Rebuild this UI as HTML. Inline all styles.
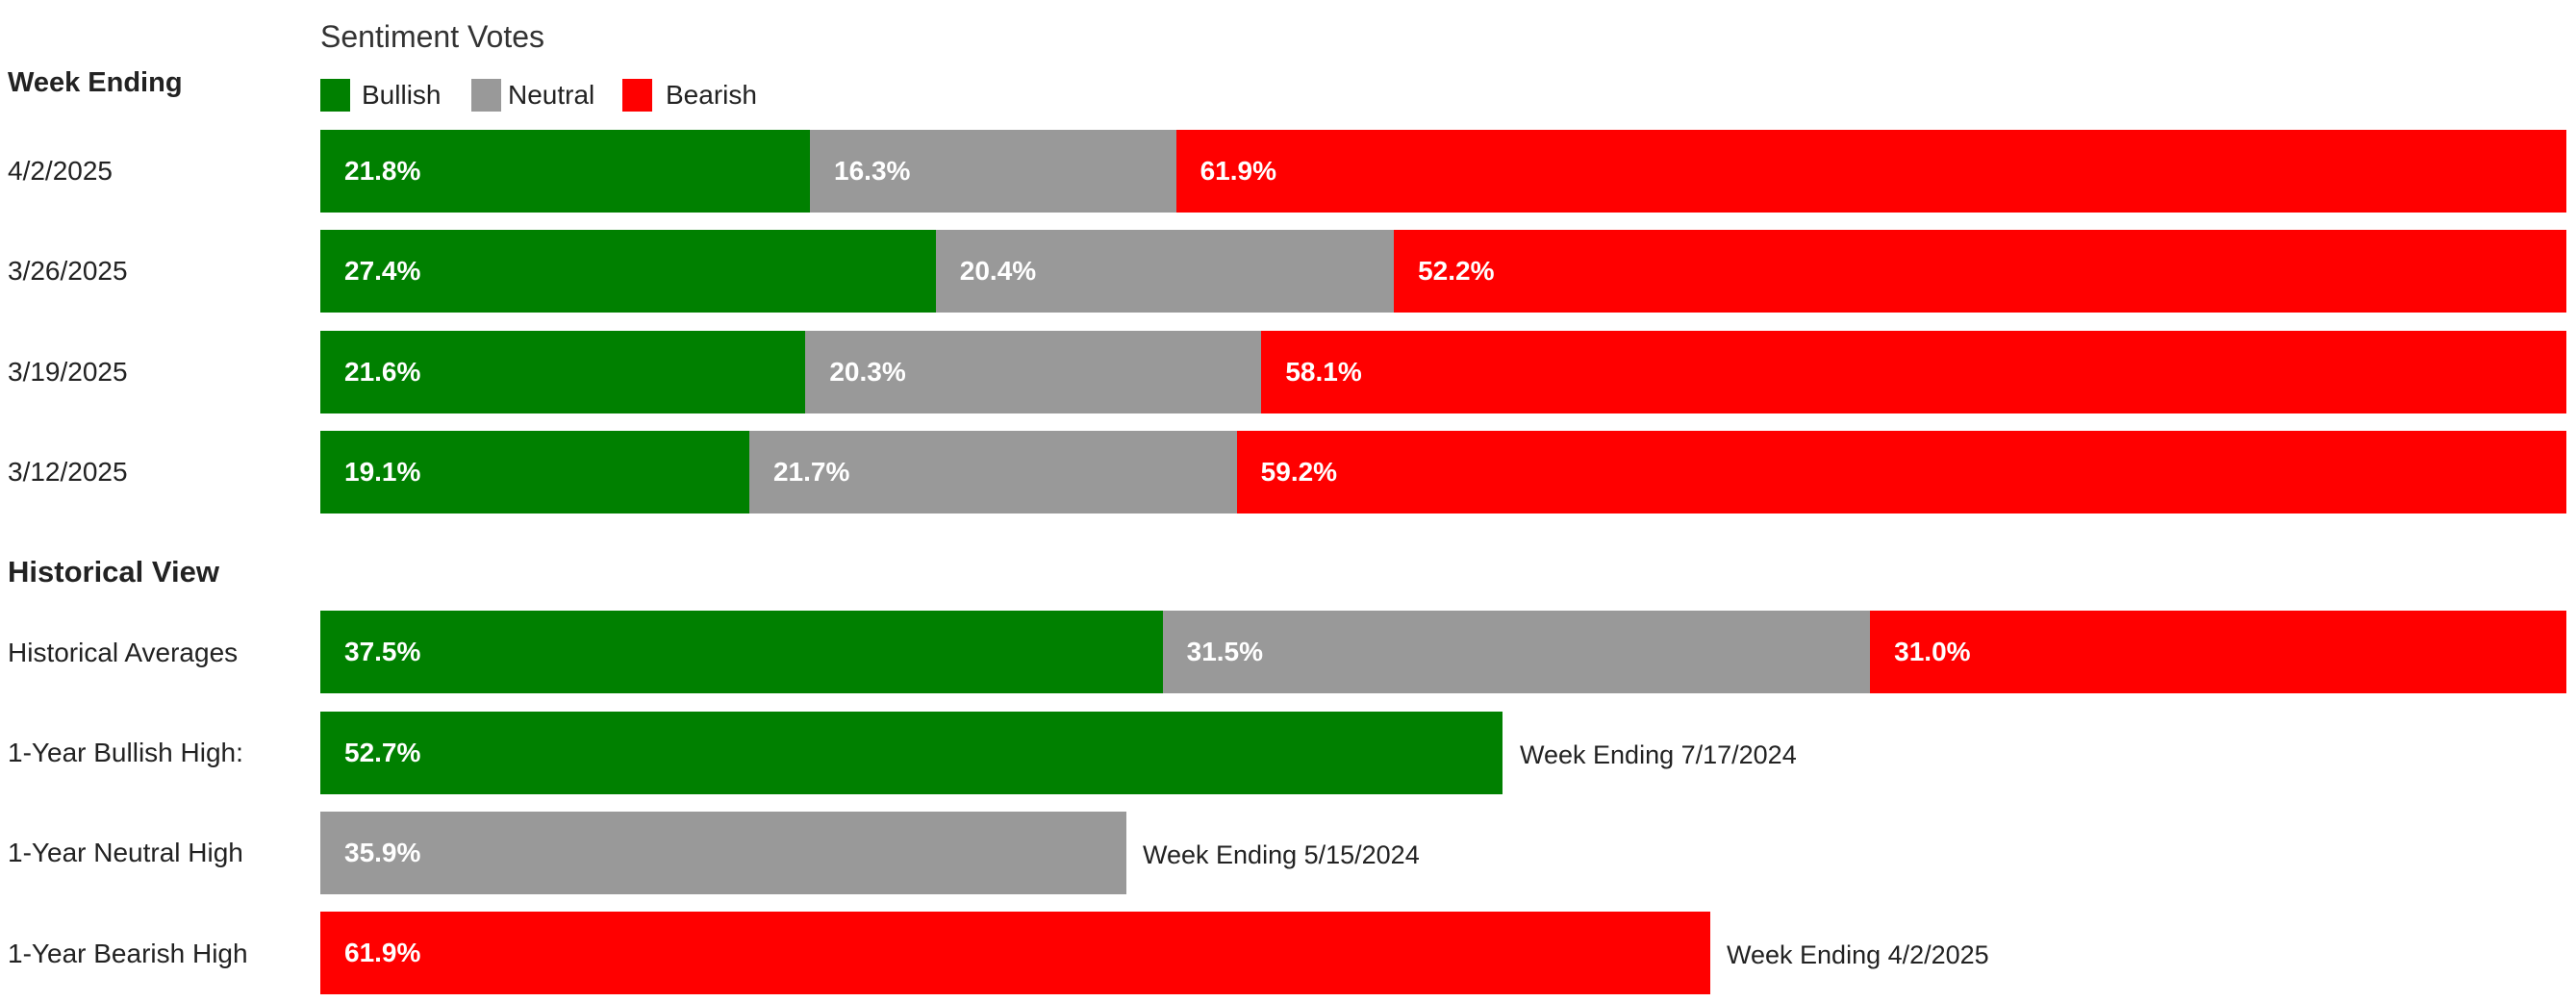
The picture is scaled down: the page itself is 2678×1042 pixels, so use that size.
<!DOCTYPE html>
<html><head><meta charset="utf-8"><style>
body{margin:0;width:2678px;height:1042px;background:#fff;position:relative;overflow:hidden;font-family:"Liberation Sans",sans-serif;color:#222}
.t{position:absolute;white-space:nowrap;font-size:28px;line-height:1}
.b{font-weight:bold}
.bar{position:absolute;left:333px;height:86px;display:flex}
.s{height:100%;color:#fff;font-weight:bold;font-size:28px;display:flex;align-items:center;padding-left:25px;box-sizing:border-box;overflow:hidden}
.g{background:#008000}.n{background:#999}.r{background:#f00}
.sq{position:absolute;width:31px;height:34px;top:82px}
</style></head><body>
<div class="t" style="left:333px;top:22px;font-size:32px;color:#333">Sentiment Votes</div>
<div class="t b" style="left:8px;top:72px;font-size:29px">Week Ending</div>
<div class="sq g" style="left:333px"></div><div class="t" style="left:376px;top:85px">Bullish</div>
<div class="sq n" style="left:490px"></div><div class="t" style="left:528px;top:85px">Neutral</div>
<div class="sq r" style="left:647px"></div><div class="t" style="left:692px;top:85px">Bearish</div>

<div class="t" style="left:8px;top:164px">4/2/2025</div>
<div class="bar" style="top:135px;width:2335px"><div class="s g" style="width:21.8%">21.8%</div><div class="s n" style="width:16.3%">16.3%</div><div class="s r" style="width:61.9%">61.9%</div></div>
<div class="t" style="left:8px;top:268px">3/26/2025</div>
<div class="bar" style="top:239px;width:2335px"><div class="s g" style="width:27.4%">27.4%</div><div class="s n" style="width:20.4%">20.4%</div><div class="s r" style="width:52.2%">52.2%</div></div>
<div class="t" style="left:8px;top:373px">3/19/2025</div>
<div class="bar" style="top:344px;width:2335px"><div class="s g" style="width:21.6%">21.6%</div><div class="s n" style="width:20.3%">20.3%</div><div class="s r" style="width:58.1%">58.1%</div></div>
<div class="t" style="left:8px;top:477px">3/12/2025</div>
<div class="bar" style="top:448px;width:2335px"><div class="s g" style="width:19.1%">19.1%</div><div class="s n" style="width:21.7%">21.7%</div><div class="s r" style="width:59.2%">59.2%</div></div>

<div class="t b" style="left:8px;top:579px;font-size:31px">Historical View</div>
<div class="t" style="left:8px;top:665px">Historical Averages</div>
<div class="bar" style="top:635px;width:2335px"><div class="s g" style="width:37.5%">37.5%</div><div class="s n" style="width:31.5%">31.5%</div><div class="s r" style="width:31.0%">31.0%</div></div>
<div class="t" style="left:8px;top:769px">1-Year Bullish High:</div>
<div class="bar" style="top:740px;width:1229px"><div class="s g" style="width:100%">52.7%</div></div>
<div class="t" style="left:1580px;top:772px;font-size:27px">Week Ending 7/17/2024</div>
<div class="t" style="left:8px;top:873px">1-Year Neutral High</div>
<div class="bar" style="top:844px;width:838px"><div class="s n" style="width:100%">35.9%</div></div>
<div class="t" style="left:1188px;top:876px;font-size:27px">Week Ending 5/15/2024</div>
<div class="t" style="left:8px;top:978px">1-Year Bearish High</div>
<div class="bar" style="top:948px;width:1445px"><div class="s r" style="width:100%">61.9%</div></div>
<div class="t" style="left:1795px;top:980px;font-size:27px">Week Ending 4/2/2025</div>
</body></html>
